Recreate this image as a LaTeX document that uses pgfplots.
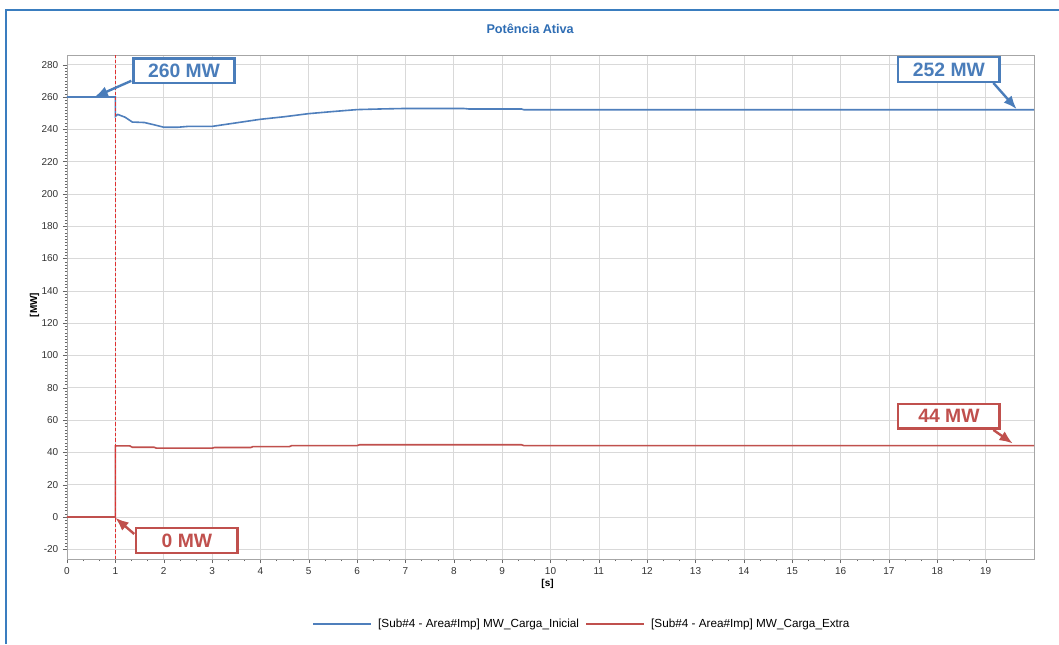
\documentclass[border=0pt]{standalone}
\usepackage{pgfplots}
\pgfplotsset{compat=1.18}
\usetikzlibrary{arrows.meta}
\usepackage{fontspec}
\setmainfont{Liberation Sans}
\definecolor{cblue}{HTML}{4F7FBC}
\definecolor{cred}{HTML}{C0504D}
\definecolor{lblue}{HTML}{4A7DBA}
\definecolor{frame}{HTML}{3A7DBF}
\definecolor{ttl}{HTML}{2E6DB4}
\definecolor{dred}{HTML}{E03030}
\begin{document}
\begin{tikzpicture}[x=1pt,y=1pt]
\path[use as bounding box, fill=white] (0,0) rectangle (794.25,483);
\draw[frame, line width=1pt] (4.5,0) -- (4.5,475.5) -- (794.25,475.5);
\begin{axis}[
  at={(50.25pt,63.75pt)}, anchor=south west,
  scale only axis, width=725.25pt, height=378pt,
  xmin=0, xmax=20, ymin=-26, ymax=286,
  xtick={0,...,19}, ytick={-20,0,...,280},
  minor x tick num=2, minor y tick num=9,
  tick align=outside, tick pos=left,
  major tick length=3pt, minor tick length=1.5pt,
  axis line style={gray!70},
  major tick style={gray!80!black}, minor tick style={gray!80!black},
  grid=major, major grid style={gray!30, line width=0.5pt, solid},
  ticklabel style={font=\fontsize{7.5}{9}\selectfont, text=black!80},
  /pgf/number format/assume math mode=true,
  title={\textbf{Potência Ativa}},
  title style={at={(0.479,1.036)}, anchor=center, font=\fontsize{9.5}{11}\selectfont, text=ttl},
  xlabel={\textbf{[s]}}, ylabel={\textbf{[MW]}},
  xlabel style={at={(0.497,-0.05)}, anchor=center, font=\fontsize{7.5}{9}\selectfont},
  ylabel style={at={(-0.0336,0.504)}, anchor=center, font=\fontsize{7.5}{9}\selectfont},
  legend columns=2,
  legend style={at={(0.533,-0.129)}, anchor=center, draw=none, fill=none,
    font=\fontsize{8.8}{10}\selectfont, column sep=3pt},
  legend image code/.code={\draw[#1, line width=1.1pt] (0pt,0pt) -- (43pt,0pt);},
]
\addplot[cblue, line width=1.2pt] coordinates {
(0,260)(1,260)(1,248)(1.05,249.2)(1.2,247.5)(1.35,244.5)(1.6,244.2)(1.8,242.8)(2.0,241.3)(2.3,241.3)(2.5,241.8)(3.0,241.8)(3.5,244)(4.0,246.2)(4.5,247.8)(5.0,249.7)(5.5,251)(6.0,252.2)(6.5,252.6)(7.0,252.9)(8.2,252.9)(8.3,252.6)(9.4,252.6)(9.45,252.1)(20,252.1)};
\addlegendentry{[Sub\#4 - Area\#Imp] MW\_Carga\_Inicial}
\addplot[cred, line width=1.2pt] coordinates {
(0,0)(1,0)(1,44)(1.3,44)(1.35,43.2)(1.8,43.2)(1.85,42.6)(3.0,42.6)(3.05,43.0)(3.8,43.0)(3.85,43.6)(4.6,43.6)(4.65,44.2)(6.0,44.2)(6.05,44.7)(9.4,44.7)(9.45,44.2)(20,44.2)};
\addlegendentry{[Sub\#4 - Area\#Imp] MW\_Carga\_Extra}
\draw[draw=dred, dash pattern=on 2.5pt off 1.5pt, line width=0.9pt] (axis cs:1,-26) -- (axis cs:1,286);
% annotations
\tikzset{ann/.style={draw=#1, line width=1.8pt, fill=white, text=#1, minimum width=76pt, minimum height=18.5pt, inner sep=0pt, font=\fontsize{14.5}{16}\selectfont\bfseries},
         arr/.style={draw=#1, fill=#1, line width=1.8pt, -{Latex[length=10pt,width=8pt]}}}
\draw[arr=lblue] (axis cs:1.33,270) -- (axis cs:0.57,260);
\node[ann=lblue] at (axis cs:2.42,276.3) {\textbf{260 MW}};
\draw[arr=lblue] (axis cs:19.16,268.7) -- (axis cs:19.64,252.5);
\node[ann=lblue] at (axis cs:18.24,277) {\textbf{252 MW}};
\draw[arr=cred] (axis cs:19.16,53.9) -- (axis cs:19.56,45.5);
\node[ann=cred] at (axis cs:18.24,62.5) {\textbf{44 MW}};
\draw[arr=cred] (axis cs:1.39,-10.5) -- (axis cs:1.0,-0.5);
\node[ann=cred] at (axis cs:2.48,-14.6) {\textbf{0 MW}};
\end{axis}
\end{tikzpicture}
\end{document}
